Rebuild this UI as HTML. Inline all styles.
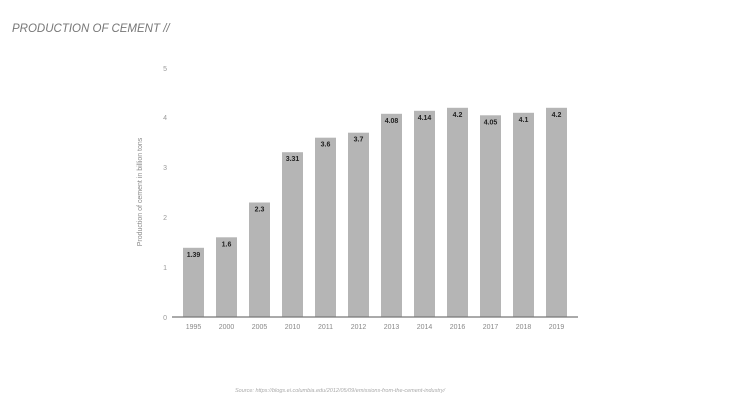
<!DOCTYPE html><html><head><style>body{margin:0;background:#fff;width:730px;height:411px;overflow:hidden}</style></head><body>
<svg width="730" height="411" xmlns="http://www.w3.org/2000/svg" font-family="Liberation Sans, sans-serif">
<text x="12" y="32" font-size="11.5" font-style="italic" fill="#777">PRODUCTION OF CEMENT //</text>
<g font-size="7" fill="#999" text-anchor="end">
<text x="167" y="320">0</text><text x="167" y="270">1</text><text x="167" y="220">2</text><text x="167" y="170">3</text><text x="167" y="120">4</text><text x="167" y="71">5</text></g>
<text transform="translate(142,192) rotate(-90)" font-size="7" fill="#888" text-anchor="middle">Production of cement in billion tons</text>
<g fill="#b5b5b5">
<rect x="183" y="247.8" width="21" height="69.2"/>
<rect x="216" y="237.3" width="21" height="79.7"/>
<rect x="249" y="202.5" width="21" height="114.5"/>
<rect x="282" y="152.2" width="21" height="164.8"/>
<rect x="315" y="137.7" width="21" height="179.3"/>
<rect x="348" y="132.7" width="21" height="184.3"/>
<rect x="381" y="113.8" width="21" height="203.2"/>
<rect x="414" y="110.8" width="21" height="206.2"/>
<rect x="447" y="107.8" width="21" height="209.2"/>
<rect x="480" y="115.3" width="21" height="201.7"/>
<rect x="513" y="112.8" width="21" height="204.2"/>
<rect x="546" y="107.8" width="21" height="209.2"/>
</g>
<g font-size="7" font-weight="bold" fill="#222" text-anchor="middle">
<text x="193.5" y="256.8">1.39</text>
<text x="226.5" y="246.3">1.6</text>
<text x="259.5" y="211.5">2.3</text>
<text x="292.5" y="161.2">3.31</text>
<text x="325.5" y="146.7">3.6</text>
<text x="358.5" y="141.7">3.7</text>
<text x="391.5" y="122.8">4.08</text>
<text x="424.5" y="119.8">4.14</text>
<text x="457.5" y="116.8">4.2</text>
<text x="490.5" y="124.3">4.05</text>
<text x="523.5" y="121.8">4.1</text>
<text x="556.5" y="116.8">4.2</text>
</g>
<g font-size="7" fill="#888" text-anchor="middle">
<text x="193.5" y="329">1995</text><text x="226.5" y="329">2000</text><text x="259.5" y="329">2005</text><text x="292.5" y="329">2010</text><text x="325.5" y="329">2011</text><text x="358.5" y="329">2012</text><text x="391.5" y="329">2013</text><text x="424.5" y="329">2014</text><text x="457.5" y="329">2016</text><text x="490.5" y="329">2017</text><text x="523.5" y="329">2018</text><text x="556.5" y="329">2019</text>
</g>
<line x1="172" y1="317" x2="578" y2="317" stroke="#777" stroke-width="1.2"/>
<text x="340" y="392" font-size="5.5" font-style="italic" fill="#aaa" text-anchor="middle">Source:  https://blogs.ei.columbia.edu/2012/05/09/emissions-from-the-cement-industry/</text>
</svg></body></html>
